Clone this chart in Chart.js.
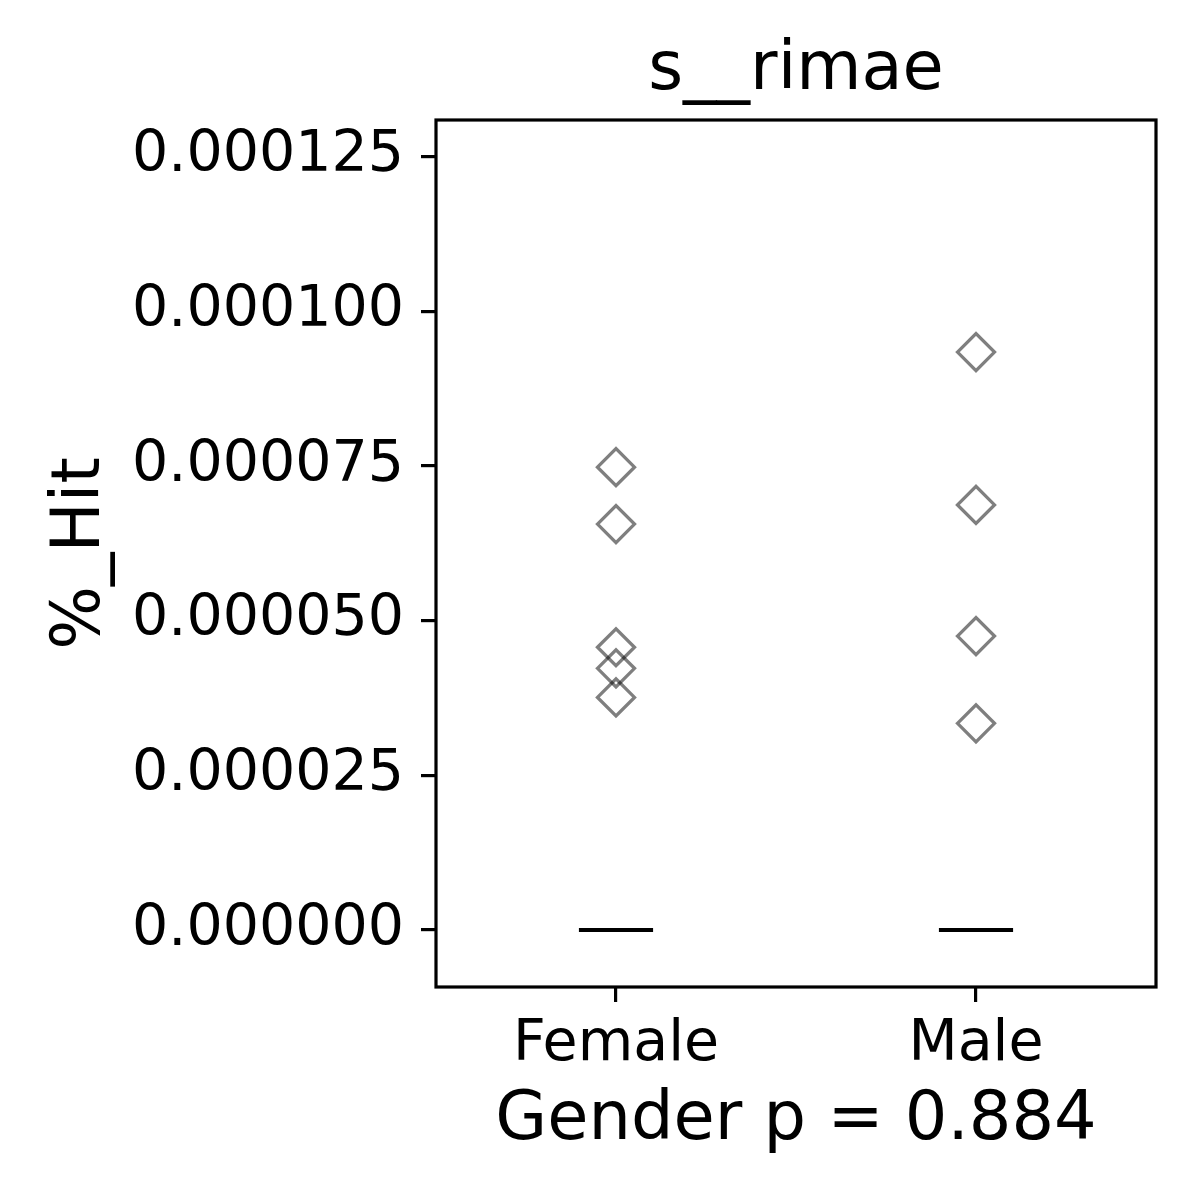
<!DOCTYPE html>
<html>
<head>
<meta charset="utf-8">
<script src="https://cdn.jsdelivr.net/npm/chart.js@4"></script>
<style>
  html, body { margin: 0; padding: 0; background: #fff; }
  #wrap { width: 1200px; height: 1200px; }
</style>
</head>
<body>
<div id="wrap"><canvas id="c" width="1200" height="1200"></canvas></div>
<script>
const categories = ["Female", "Male"];
const femaleValues = [0.0000748, 0.0000656, 0.0000457, 0.0000423, 0.0000376];
const maleValues = [0.0000934, 0.0000687, 0.0000475, 0.0000334];
const medians = [0, 0];
const yTicks = [0, 0.000025, 0.00005, 0.000075, 0.0001, 0.000125];
const titleText = "s__rimae";
const xTitle = "Gender p = 0.884";
const yTitle = "%_Hit";

const FONT = "'DejaVu Sans', sans-serif";
const groups = [femaleValues, maleValues];
const pointData = [];
groups.forEach((vals, i) => vals.forEach(v => pointData.push({ x: i, y: v })));

const medianSets = medians.map((m, i) => ({
  type: 'line',
  data: [{ x: i - 0.103, y: m }, { x: i + 0.103, y: m }],
  borderColor: '#000',
  borderWidth: 4,
  pointRadius: 0,
  borderCapStyle: 'butt',
  fill: false
}));

const framePlugin = {
  id: 'frame',
  afterDraw(chart) {
    const { ctx, chartArea: a } = chart;
    ctx.save();
    ctx.strokeStyle = '#000';
    ctx.lineWidth = 3.2;
    ctx.strokeRect(a.left, a.top, a.right - a.left, a.bottom - a.top);
    ctx.restore();
  }
};

new Chart(document.getElementById('c'), {
  type: 'scatter',
  data: {
    datasets: [
      {
        type: 'scatter',
        data: pointData,
        pointStyle: 'rectRot',
        pointRadius: 18.5,
        pointHoverRadius: 18.5,
        borderWidth: 3.3,
        borderColor: 'rgba(0,0,0,0.5)',
        backgroundColor: 'rgba(0,0,0,0)'
      },
      ...medianSets
    ]
  },
  options: {
    responsive: false,
    devicePixelRatio: 1,
    animation: false,
    layout: { padding: { left: 0, right: 44, top: 0, bottom: 0 } },
    plugins: { legend: { display: false }, tooltip: { enabled: false }, title: { display: false } },
    scales: {
      x: {
        type: 'linear',
        position: 'bottom',
        min: -0.5,
        max: 1.5,
        afterBuildTicks: s => { s.ticks = categories.map((c, i) => ({ value: i })); },
        afterFit: s => { s.height = 213; },
        ticks: {
          callback: v => categories[v],
          font: { family: FONT, size: 57, lineHeight: 1 },
          color: '#000',
          padding: 15,
          maxRotation: 0,
          autoSkip: false
        },
        grid: { display: true, drawOnChartArea: false, drawTicks: true, tickLength: 15, color: '#000', lineWidth: 3.2 },
        border: { display: false },
        title: { display: true, text: xTitle, font: { family: FONT, size: 67, lineHeight: 1 }, color: '#000', padding: { top: 0, bottom: 45 } }
      },
      x2: {
        type: 'linear',
        position: 'top',
        min: -0.5,
        max: 1.5,
        afterFit: s => { s.height = 120; },
        ticks: { display: false },
        grid: { display: false },
        border: { display: false },
        title: { display: true, text: titleText, font: { family: FONT, size: 67, lineHeight: 1 }, color: '#000', padding: { top: 38, bottom: 0 } }
      },
      y: {
        type: 'linear',
        position: 'left',
        min: -0.0000092,
        max: 0.0001309,
        afterBuildTicks: s => { s.ticks = yTicks.map(v => ({ value: v })); },
        afterFit: s => { s.width = 436; },
        ticks: {
          callback: v => Number(v).toFixed(6),
          font: { family: FONT, size: 57, lineHeight: 1 },
          color: '#000',
          padding: 17,
          autoSkip: false
        },
        grid: { display: true, drawOnChartArea: false, drawTicks: true, tickLength: 15, color: '#000', lineWidth: 3.2 },
        border: { display: false },
        title: { display: true, text: yTitle, font: { family: FONT, size: 67, lineHeight: 1 }, color: '#000', padding: { top: 48, bottom: 0 } }
      }
    }
  },
  plugins: [framePlugin]
});
</script>
</body>
</html>
